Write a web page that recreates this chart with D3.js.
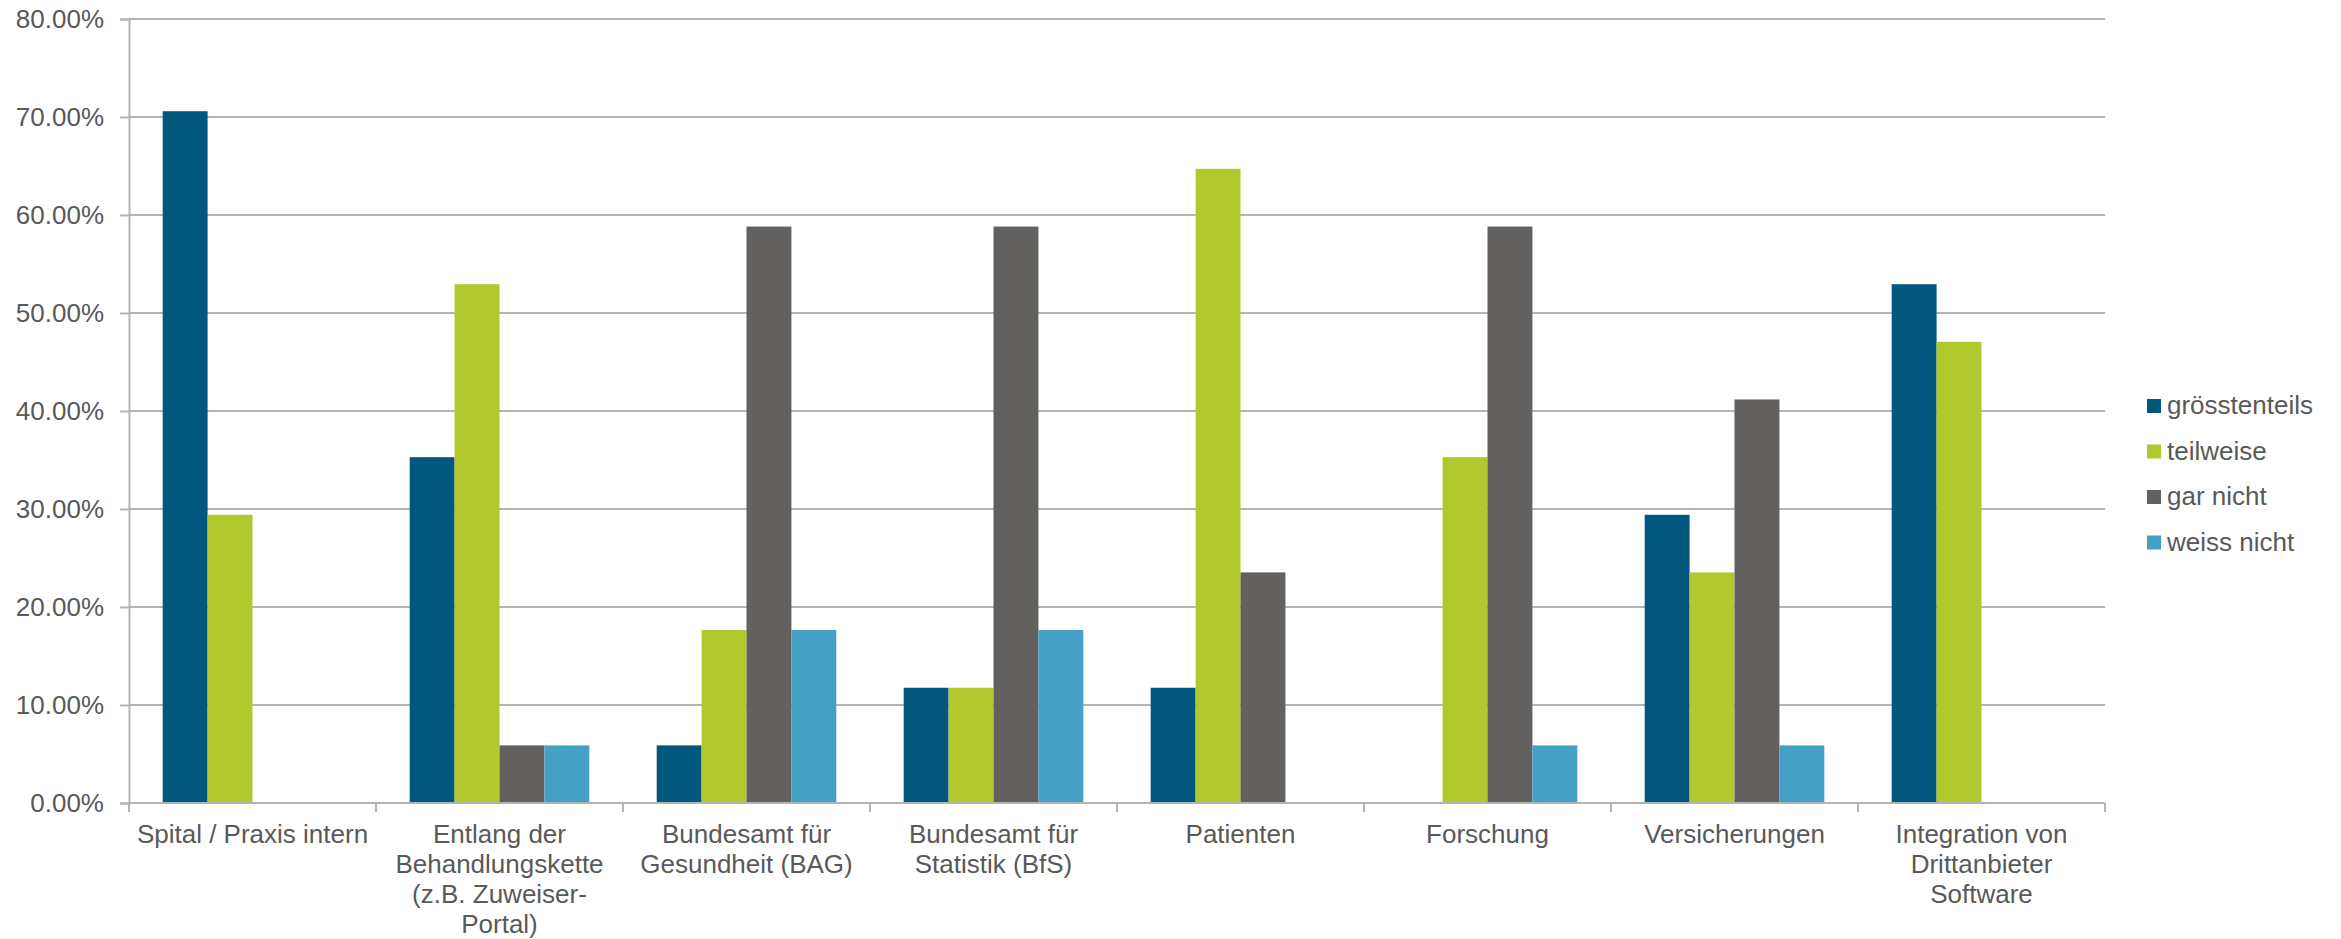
<!DOCTYPE html>
<html>
<head>
<meta charset="utf-8">
<script src="https://cdn.jsdelivr.net/npm/d3@7"></script>
<style>
  html, body { margin: 0; padding: 0; background: #fff; }
  svg { display: block; font-family: Arial, "Liberation Sans", sans-serif; }
</style>
</head>
<body>
<svg id="chart" width="2341" height="939"></svg>
<script>
// Survey: where is data exchanged (share of respondents)
const categories = [
  ["Spital / Praxis intern"],
  ["Entlang der", "Behandlungskette", "(z.B. Zuweiser-", "Portal)"],
  ["Bundesamt für", "Gesundheit (BAG)"],
  ["Bundesamt für", "Statistik (BfS)"],
  ["Patienten"],
  ["Forschung"],
  ["Versicherungen"],
  ["Integration von", "Drittanbieter", "Software"]
];
const seriesNames = ["grösstenteils", "teilweise", "gar nicht", "weiss nicht"];
const groesstenteils = [70.59, 35.29, 5.88, 11.76, 11.76, 0, 29.41, 52.94];
const teilweise      = [29.41, 52.94, 17.65, 11.76, 64.71, 35.29, 23.53, 47.06];
const garNicht       = [0, 5.88, 58.82, 58.82, 23.53, 58.82, 41.18, 0];
const weissNicht     = [0, 5.88, 17.65, 17.65, 0, 5.88, 5.88, 0];
const yTicks = [0, 10, 20, 30, 40, 50, 60, 70, 80];
const colors = ["#02587c", "#b2c92d", "#62615f", "#45a0c6"];

const series = [groesstenteils, teilweise, garNicht, weissNicht];

const svg = d3.select("#chart");
const margin = { left: 129, right: 2105, top: 19, bottom: 803 };
const fontSize = "26px";

const x = d3.scaleBand()
  .domain(d3.range(categories.length))
  .range([margin.left, margin.right])
  .paddingInner(0)
  .paddingOuter(0);

// bars fill 4 slots; gap between groups is 1.5 bar widths
const xInner = d3.scaleBand()
  .domain(d3.range(series.length))
  .range([0, x.bandwidth()])
  .paddingInner(0)
  .paddingOuter(0.75)
  .align(0.5);

const y = d3.scaleLinear()
  .domain([0, 80])
  .range([margin.bottom, margin.top]);

const gridColor = "#b3b3b3";
const textColor = "#595959";

// horizontal gridlines
svg.append("g")
  .selectAll("line")
  .data(yTicks.filter(t => t > 0))
  .join("line")
  .attr("x1", margin.left)
  .attr("x2", margin.right)
  .attr("y1", d => y(d))
  .attr("y2", d => y(d))
  .attr("stroke", gridColor)
  .attr("stroke-width", 2);

// y axis
const yAxis = d3.axisLeft(y)
  .tickValues(yTicks)
  .tickSize(9)
  .tickPadding(16)
  .tickFormat(d => d.toFixed(2) + "%");

svg.append("g")
  .attr("transform", `translate(${margin.left},0)`)
  .call(yAxis)
  .call(g => {
    g.selectAll("path").attr("stroke", gridColor).attr("stroke-width", 2);
    g.selectAll(".tick line").attr("stroke", gridColor).attr("stroke-width", 2);
    g.selectAll("text")
      .attr("fill", textColor)
      .style("font-size", fontSize)
      .style("font-family", "Arial, 'Liberation Sans', sans-serif");
  });

// bars
const groups = svg.append("g")
  .selectAll("g")
  .data(categories.map((c, i) => i))
  .join("g")
  .attr("transform", i => `translate(${x(i)},0)`);

groups.selectAll("rect")
  .data(i => series.map((s, k) => ({ k, v: s[i] })))
  .join("rect")
  .attr("x", d => xInner(d.k))
  .attr("width", xInner.bandwidth())
  .attr("y", d => y(d.v))
  .attr("height", d => y(0) - y(d.v))
  .attr("fill", d => colors[d.k]);

// x axis baseline and category boundary ticks
const xAxisG = svg.append("g");
xAxisG.append("line")
  .attr("x1", margin.left)
  .attr("x2", margin.right)
  .attr("y1", y(0))
  .attr("y2", y(0))
  .attr("stroke", gridColor)
  .attr("stroke-width", 2);

xAxisG.selectAll("line.tick")
  .data(d3.range(categories.length + 1))
  .join("line")
  .attr("class", "tick")
  .attr("x1", i => margin.left + i * x.bandwidth())
  .attr("x2", i => margin.left + i * x.bandwidth())
  .attr("y1", y(0))
  .attr("y2", y(0) + 9)
  .attr("stroke", gridColor)
  .attr("stroke-width", 2);

// category labels (multi-line)
const labels = svg.append("g")
  .selectAll("text")
  .data(categories)
  .join("text")
  .attr("text-anchor", "middle")
  .attr("fill", textColor)
  .style("font-size", fontSize)
  .attr("x", (d, i) => x(i) + x.bandwidth() / 2)
  .attr("y", 843);

labels.selectAll("tspan")
  .data(d => d)
  .join("tspan")
  .attr("x", function () { return d3.select(this.parentNode).attr("x"); })
  .attr("dy", (d, i) => i === 0 ? 0 : 30)
  .text(d => d);

// legend
const legend = svg.append("g")
  .attr("transform", "translate(2147,399)");

const items = legend.selectAll("g")
  .data(seriesNames)
  .join("g")
  .attr("transform", (d, i) => `translate(0,${i * 45.5})`);

items.append("rect")
  .attr("width", 14)
  .attr("height", 14)
  .attr("fill", (d, i) => colors[i]);

items.append("text")
  .attr("x", 20)
  .attr("y", 15)
  .attr("fill", textColor)
  .style("font-size", fontSize)
  .text(d => d);
</script>
</body>
</html>
